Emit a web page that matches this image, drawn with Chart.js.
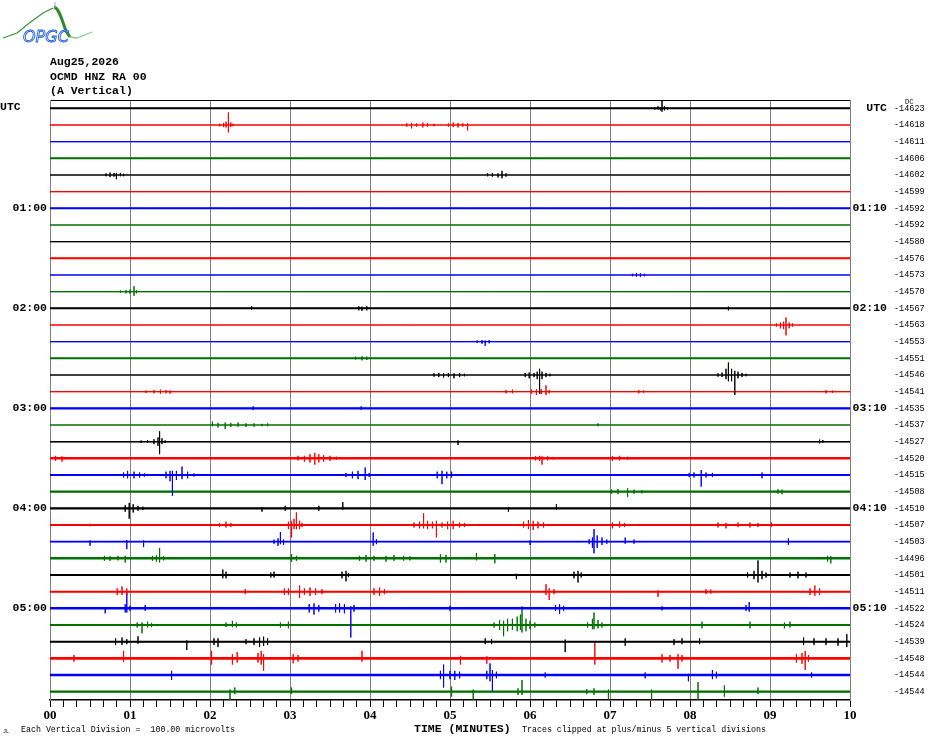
<!DOCTYPE html>
<html>
<head>
<meta charset="utf-8">
<script src="https://cdn.jsdelivr.net/npm/chart.js@4.4.1/dist/chart.umd.min.js"></script>
<style>
  html, body { margin: 0; padding: 0; background: #fff; }
  #wrap { position: relative; width: 930px; height: 744px; overflow: hidden; }
  #c { position: absolute; left: 0; top: 0; }
  .t { position: absolute; font-family: "Liberation Mono", monospace; color: #000; white-space: pre; }
  .bold { font-weight: bold; font-size: 11.5px; line-height: 14.5px; }
  .small { font-size: 8.3px; line-height: 10px; }
</style>
</head>
<body>
<div id="wrap">
  <canvas id="c" width="930" height="744"></canvas>

  <svg style="position:absolute;left:0;top:0" width="100" height="46">
    <path d="M3,38 L17,33 Q30,22 43,13 L53,8" fill="none" stroke="#3c963c" stroke-width="1.3"/>
    <path d="M54,7 C59,8 62,20 66,31 L70,37" fill="none" stroke="#2e8b2e" stroke-width="3"/>
    <path d="M70,37 L77,38 L92,32" fill="none" stroke="#8fc88f" stroke-width="1.3"/>
    <line x1="55" y1="2" x2="55" y2="8" stroke="#999" stroke-width="0.8"/>
    <text x="23" y="42" font-family="DejaVu Sans" font-style="italic" font-size="16" fill="#ffffff" stroke="#1f5fd6" stroke-width="0.9">OPGC</text>
  </svg>

  <div class="t bold" style="left:50px;top:55px">Aug25,2026
OCMD HNZ RA 00
(A Vertical)</div>
  <div class="t bold" style="left:0;top:100px">UTC</div>
  <div class="t" style="left:905px;top:98px;font-size:7px;line-height:8px">DC</div>
  <div class="t bold" style="left:414px;top:722px">TIME (MINUTES)</div>
  <div class="t small" style="left:21px;top:725px">Each Vertical Division =  100.00 microvolts</div>
  <div class="t small" style="left:522px;top:725px">Traces clipped at plus/minus 5 vertical divisions</div>
  <div class="t" style="left:3px;top:729px;font-size:5px;line-height:6px">JL</div>
</div>

<script>
// tick labels
const X_LABELS = ['00', '01', '02', '03', '04', '05', '06', '07', '08', '09', '10'];
const TICKS_PER_MIN = 6;
const LEFT_LABELS = ['UTC', '01:00', '02:00', '03:00', '04:00', '05:00'];
const RIGHT_LABELS = ['UTC', '01:10', '02:10', '03:10', '04:10', '05:10'];

// DC level printed at the end of every 10 minute line
const ROW_LEVELS = [-14623, -14618, -14611, -14606, -14602, -14599,
                    -14592, -14592, -14580, -14576, -14573, -14570,
                    -14567, -14563, -14553, -14551, -14546, -14541,
                    -14535, -14537, -14527, -14520, -14515, -14508,
                    -14510, -14507, -14503, -14496, -14501, -14511,
                    -14522, -14524, -14539, -14548, -14544, -14544];

// background noise of each line, in vertical divisions
const NOISE = [0.25, 0, 0.05, 0.25, 0, 0.05, 0.25, 0, 0.05, 0.25, 0, 0.05,
               0.25, 0, 0.05, 0.25, 0, 0.05, 0.3, 0.05, 0.1, 0.35, 0.2, 0.3,
               0.3, 0.2, 0.2, 0.35, 0.2, 0.25, 0.35, 0.25, 0.25, 0.4, 0.35, 0.3];

const ROW_DIV = 4; // vertical divisions between two lines

// wiggles: [minute, up, down] in divisions
const TRACE_EVENTS = [
  // 00:00
  [[7.56,0.3,0.3],[7.6,0.5,0.3],[7.63,0.3,0.5],[7.65,2,0.8],[7.68,0.5,0.5],[7.72,0.3,0.3]],
  [[2.12,0.3,0.3],[2.17,0.5,0.5],[2.2,0.8,0.6],[2.23,3,1.8],[2.26,0.6,0.5],[2.29,0.3,0.3],[4.46,0.4,0.4],[4.52,0.5,0.8],[4.58,0.4,0.4],[4.66,0.6,0.6],[4.72,0.5,0.4],[4.8,0.3,0.3],[4.98,0.4,0.4],[5.04,0.6,0.5],[5.1,0.5,0.6],[5.16,0.4,0.4],[5.22,0.4,1.3]],
  [],
  [],
  [[0.7,0.4,0.3],[0.75,0.6,0.5],[0.8,0.5,0.4],[0.83,0.5,1],[0.88,0.5,0.3],[0.92,0.3,0.3],[5.47,0.4,0.3],[5.53,0.5,0.4],[5.6,0.4,0.6],[5.65,1,0.8],[5.7,0.4,0.4]],
  [],
  // 01:00
  [],
  [],
  [],
  [],
  [[7.28,0.3,0.3],[7.33,0.5,0.4],[7.38,0.4,0.5],[7.43,0.3,0.3]],
  [[0.88,0.3,0.3],[0.95,0.4,0.4],[1.0,0.5,0.5],[1.05,1.3,1],[1.08,0.4,0.4]],
  // 02:00
  [[2.52,0.5,0.3],[3.86,0.5,0.5],[3.9,0.4,0.6],[3.96,0.5,0.5],[8.48,0.4,0.5]],
  [[9.08,0.4,0.4],[9.13,0.6,0.8],[9.17,0.8,1],[9.2,1.8,2.5],[9.24,0.6,0.8],[9.28,0.4,0.4]],
  [[5.34,0.3,0.3],[5.4,0.4,0.5],[5.44,0.3,1],[5.49,0.4,0.4]],
  [[3.82,0.4,0.3],[3.9,0.5,0.5],[3.96,0.4,0.4]],
  [[4.8,0.4,0.4],[4.86,0.5,0.5],[4.92,0.4,0.6],[4.98,0.5,0.5],[5.05,0.4,0.8],[5.12,0.5,0.5],[5.18,0.3,0.3],[5.94,0.5,0.5],[5.99,0.6,0.8],[6.05,0.5,0.5],[6.09,0.8,1],[6.12,1.5,4.5],[6.15,0.8,1],[6.2,0.5,0.5],[6.25,0.3,0.3],[8.35,0.4,0.4],[8.4,0.6,0.5],[8.45,1.5,1],[8.48,3,1.5],[8.52,1.5,1.5],[8.56,1,4.8],[8.6,0.8,0.8],[8.65,0.5,0.5],[8.7,0.3,0.3]],
  [[1.2,0.3,0.3],[1.3,0.4,0.4],[1.38,0.5,0.5],[1.45,0.4,0.4],[1.5,0.3,0.5],[5.7,0.4,0.4],[5.78,0.5,0.4],[6.02,0.5,0.5],[6.08,0.6,0.8],[6.14,0.6,0.6],[6.2,1.5,0.8],[6.24,0.4,0.4],[7.36,0.4,0.4],[7.42,0.3,0.3],[9.7,0.4,0.4],[9.78,0.3,0.3]],
  // 03:00
  [[2.54,0.5,0.4],[3.89,0.5,0.4]],
  [[2.03,0.8,0.3],[2.1,0.5,0.6],[2.19,0.6,1],[2.26,0.5,0.5],[2.35,0.6,0.4],[2.45,0.4,0.5],[2.55,0.4,0.4],[2.65,0.3,0.3],[2.72,0.4,0.3],[6.85,0.4,0.3]],
  [[1.14,0.3,0.3],[1.22,0.4,0.3],[1.3,0.6,0.6],[1.35,1,1],[1.37,2.5,3],[1.4,0.8,0.6],[1.44,0.3,0.3],[5.1,0.3,0.8],[9.62,0.5,0.4],[9.66,0.4,0.3]],
  [[0.07,0.6,0.6],[0.15,0.5,0.8],[3.1,0.6,0.5],[3.18,0.6,0.8],[3.25,1,1],[3.31,1.3,1.5],[3.36,1,1],[3.42,0.8,0.8],[3.5,0.6,0.6],[3.58,0.4,0.4],[6.07,0.5,0.5],[6.12,0.6,0.6],[6.15,0.5,1.5],[6.22,0.5,0.5],[6.3,0.3,0.3],[7.03,0.5,0.6],[7.12,0.6,0.5],[7.22,0.4,0.4]],
  [[0.92,0.6,0.6],[0.97,1,0.8],[1.05,0.8,0.8],[1.12,0.6,0.6],[1.18,0.4,0.4],[1.45,0.8,0.8],[1.5,1,1.5],[1.53,1,5],[1.58,1,1.2],[1.65,2,1],[1.72,0.8,0.8],[1.8,0.4,0.4],[3.7,0.5,0.5],[3.78,0.8,0.8],[3.85,1,1],[3.94,1.8,1.2],[3.99,0.5,0.5],[4.84,0.8,0.8],[4.9,1,2.2],[4.96,0.8,0.8],[5.02,0.8,0.6],[7.99,0.5,0.5],[8.05,0.6,0.6],[8.14,1.2,2.8],[8.2,0.6,0.6],[8.28,0.5,0.5],[8.9,0.6,0.8]],
  [[7.02,0.5,0.5],[7.1,0.6,0.6],[7.22,0.8,1.3],[7.3,0.5,0.5],[7.4,0.4,0.4],[9.1,0.6,0.5],[9.15,0.5,0.6]],
  // 04:00
  [[0.94,0.8,0.8],[0.99,1.3,2.5],[1.04,1,1],[1.1,0.6,0.6],[1.16,0.4,0.4],[2.65,0.3,0.8],[2.94,0.6,0.6],[3.36,0.6,0.6],[3.66,1.5,0.3],[5.73,0.3,0.8],[6.33,1,0.3]],
  [[0.5,0.3,0.3],[2.12,0.5,0.5],[2.2,0.8,0.6],[2.26,0.5,0.5],[2.98,0.8,1],[3.02,1,3],[3.05,1.5,1],[3.08,3,1],[3.12,1,1],[3.15,0.5,0.5],[4.55,0.6,0.6],[4.62,0.8,0.8],[4.67,2.8,0.8],[4.72,1,1],[4.78,0.8,0.8],[4.83,1,3],[4.9,0.6,0.6],[4.97,0.8,1],[5.04,1,1],[5.12,0.6,0.6],[5.18,0.5,0.5],[5.92,0.8,0.6],[5.98,1.2,1],[6.04,1,1.2],[6.1,0.8,0.8],[6.17,0.6,0.6],[7.03,0.6,0.8],[7.12,0.8,0.6],[7.18,0.5,0.5],[8.35,0.6,0.6],[8.45,0.5,0.8],[8.6,0.6,0.5],[8.75,0.6,0.6],[8.85,0.5,0.5],[9.02,0.6,0.5]],
  [[0.5,0.3,1],[0.96,0.4,1.8],[1.17,0.3,1.3],[2.8,0.5,0.5],[2.85,0.8,1],[2.88,2.3,0.6],[2.92,0.5,0.8],[4.04,2.2,1],[4.08,0.6,0.6],[6.0,0.3,0.8],[6.74,0.6,0.6],[6.78,1,1.5],[6.8,3,2.8],[6.84,1.5,1.5],[6.9,1,0.8],[6.96,0.5,0.5],[7.19,1,0.5],[7.3,0.5,0.5],[9.23,0.8,0.8]],
  [[0.68,0.6,0.6],[0.75,0.5,0.6],[0.85,0.6,0.5],[0.94,0.6,1],[1.28,0.6,0.6],[1.33,0.8,0.8],[1.37,2.5,1],[1.42,0.5,0.5],[3.02,1,0.8],[3.08,0.6,0.6],[3.87,0.6,0.6],[3.95,0.8,0.8],[4.05,0.6,0.6],[4.2,0.6,0.8],[4.3,0.8,0.6],[4.42,0.6,0.6],[4.5,0.5,0.5],[4.88,1,1],[4.95,0.8,1],[5.33,1.3,0.5],[5.56,1,1.2],[9.72,0.6,0.8],[9.76,0.5,1.2]],
  [[2.16,1.3,0.8],[2.2,0.8,0.8],[2.76,0.6,0.6],[2.8,0.8,0.6],[3.65,0.8,0.8],[3.7,1,1.5],[3.73,0.5,0.5],[5.83,0.3,1],[6.55,0.8,0.8],[6.6,1,1.8],[6.64,0.6,0.6],[8.72,0.6,0.6],[8.8,1,1],[8.85,3.5,1.8],[8.9,1,1],[8.95,0.6,0.6],[9.25,0.6,0.6],[9.35,0.8,0.8],[9.45,0.6,0.6]],
  [[0.84,0.8,0.8],[0.9,1.3,0.8],[0.96,0.8,0.8],[2.44,0.6,0.6],[2.93,0.8,0.8],[2.98,0.8,0.8],[3.12,1.5,1.5],[3.18,0.8,0.8],[3.25,1,1],[3.32,0.8,0.8],[3.4,0.6,0.6],[4.05,0.8,0.8],[4.12,1,1],[4.18,0.6,0.6],[6.2,1.8,0.8],[6.24,0.8,2],[6.3,0.6,0.6],[7.6,0.3,1.3],[8.2,0.6,0.6],[8.26,0.5,0.5],[9.5,0.8,0.8],[9.56,1.5,1],[9.62,0.8,0.8]],
  // 05:00
  [[0.69,0.3,1.2],[0.94,1,1],[0.96,3.8,1],[1.0,0.6,0.6],[1.19,0.8,0.6],[3.24,1,1],[3.3,1.2,1.5],[3.36,0.8,0.8],[3.57,1,1],[3.62,1.2,1],[3.68,1,1.2],[3.76,0.5,7],[3.8,0.8,0.8],[5.0,0.6,0.6],[6.32,0.8,0.6],[6.37,1,1.3],[6.42,0.6,0.6],[7.65,0.5,0.5],[8.7,0.8,0.6],[8.74,1.5,0.8]],
  [[1.09,0.6,0.6],[1.15,0.6,2],[1.22,0.8,0.6],[1.27,0.5,0.5],[2.2,0.6,0.5],[2.28,1,0.5],[2.33,0.6,0.6],[2.88,0.6,0.6],[2.98,0.8,0.8],[5.55,0.6,0.6],[5.62,1.2,1.2],[5.67,1,2.7],[5.72,1.5,1.5],[5.78,1.5,1.2],[5.84,2,1.5],[5.88,2.5,1.2],[5.9,4.5,1.8],[5.95,1.5,1.5],[6.0,1,1],[6.06,0.6,0.6],[6.72,0.6,0.6],[6.78,1.5,1],[6.8,3,1],[6.85,1.2,0.8],[6.9,0.6,0.6],[8.15,0.8,0.8],[8.75,0.8,0.8],[9.18,0.6,0.8],[9.25,0.8,0.6]],
  [[0.82,0.8,0.8],[0.9,1,0.8],[0.96,0.6,0.6],[1.1,1.3,0.5],[1.71,0.3,2],[2.05,0.8,0.8],[2.1,0.8,1.3],[2.45,0.6,0.6],[2.55,0.8,0.8],[2.62,1,1.3],[2.67,1.2,1],[2.72,0.8,0.8],[5.44,0.8,0.6],[5.52,0.6,0.6],[6.44,0.5,2.5],[7.19,0.8,1],[7.8,0.6,0.8],[7.9,0.8,0.6],[8.12,0.8,0.6],[9.42,1,0.8],[9.55,0.8,0.8],[9.7,0.8,0.8],[9.85,0.8,1],[9.96,1.8,1.3]],
  [[0.3,0.8,0.8],[0.92,1.8,0.8],[2.02,1.8,1.5],[2.28,1,1.5],[2.34,1.5,1],[2.6,1.3,1],[2.64,1.8,1.5],[2.67,1,3],[3.04,1,1.2],[3.1,0.8,0.8],[3.9,1.8,0.8],[5.13,0.6,1.5],[5.46,0.5,1.3],[6.81,4,1.5],[7.65,1,1],[7.75,0.8,0.8],[7.85,1,2.5],[7.9,0.8,0.8],[9.33,1,1],[9.4,1.3,1.3],[9.44,1.8,2.8],[9.48,0.8,0.8]],
  [[1.52,1,1.2],[4.88,1,1],[4.92,2.5,3],[5.0,1,1],[5.06,1,1.2],[5.12,0.8,0.8],[5.46,1,1],[5.5,2.8,1.5],[5.53,1.2,3.8],[5.58,0.8,0.8],[6.19,0.6,0.6],[7.44,0.6,0.8],[7.98,0.3,1.5],[8.28,1.2,1],[8.33,0.8,0.8],[9.52,0.6,0.6]],
  [[2.25,0.5,2],[2.31,1,0.6],[3.02,1,0.5],[5.02,1.2,1.2],[5.29,0.5,2.5],[5.85,0.8,0.8],[5.9,2.8,0.8],[6.71,0.6,0.6],[6.8,0.8,0.8],[6.98,0.5,2],[7.52,0.5,2],[8.1,2.3,2.5],[8.43,1.5,1.2],[8.85,1,0.6]]
];

const TRACE_COLORS = ['#000000', '#ff0000', '#0000ff', '#007000'];
const MONO = '"Liberation Mono", monospace';

function isWhole(v) {
  return v !== undefined && Math.abs(v - Math.round(v)) < 1e-6;
}

// one polyline per 10 minute line, spikes drawn straight up and down
function tracePoints(row) {
  const pts = [{x: 0, y: row}];
  TRACE_EVENTS[row].slice().sort((a, b) => a[0] - b[0]).forEach(([t, up, down]) => {
    pts.push({x: t, y: row});
    pts.push({x: t, y: row - up / ROW_DIV});
    pts.push({x: t, y: row + down / ROW_DIV});
    pts.push({x: t, y: row});
  });
  pts.push({x: 10, y: row});
  return pts;
}

function rowTicks(scale) {
  scale.ticks = ROW_LEVELS.map((_, i) => ({value: i}));
}

const datasets = [];
TRACE_EVENTS.forEach((ev, row) => {
  // noise band under the line
  datasets.push({
    data: [{x: 0, y: row}, {x: 10, y: row}],
    borderColor: TRACE_COLORS[row % 4],
    borderWidth: function(ctx) {
      const y = ctx.chart.scales.y;
      const pxPerDiv = y ? Math.abs(y.getPixelForValue(1) - y.getPixelForValue(0)) / ROW_DIV : 4;
      return 1 + NOISE[row] * pxPerDiv;
    },
    pointRadius: 0,
    borderCapStyle: 'butt'
  });
  // the wiggles themselves
  datasets.push({
    data: tracePoints(row),
    borderColor: TRACE_COLORS[row % 4],
    borderWidth: 1,
    pointRadius: 0,
    tension: 0,
    borderJoinStyle: 'miter'
  });
});

new Chart(document.getElementById('c'), {
  type: 'line',
  data: { datasets: datasets },
  options: {
    responsive: false,
    animation: false,
    events: [],
    layout: { padding: { top: 100 } },
    plugins: { legend: { display: false }, tooltip: { enabled: false } },
    scales: {
      x: {
        type: 'linear', position: 'bottom', min: 0, max: 10,
        afterBuildTicks: function(scale) {
          scale.ticks = [];
          for (let k = 0; k <= 10 * TICKS_PER_MIN; k++) scale.ticks.push({value: k / TICKS_PER_MIN});
        },
        afterFit: function(scale) { scale.height = 44; },
        grid: {
          color: c => isWhole(c.tick && c.tick.value) ? '#808080' : 'rgba(0,0,0,0)',
          tickColor: '#000', tickLength: 7, lineWidth: 1
        },
        border: { color: '#000', width: 1.5 },
        ticks: {
          autoSkip: false, maxRotation: 0, padding: 1, color: '#000',
          font: { family: '"Liberation Serif", serif', weight: 'bold', size: 13 },
          callback: v => isWhole(v) ? X_LABELS[Math.round(v)] : ''
        }
      },
      xt: {
        type: 'linear', position: 'top', min: 0, max: 10,
        afterFit: function(scale) { scale.height = 0; },
        grid: { display: false, drawTicks: false },
        ticks: { display: false },
        border: { color: '#000', width: 1 }
      },
      y: {
        type: 'linear', position: 'left', min: -0.5, max: 35.5, reverse: true,
        afterBuildTicks: rowTicks,
        afterFit: function(scale) { scale.width = 50; },
        grid: { display: false, drawTicks: false },
        border: { color: '#808080', width: 1 },
        ticks: {
          autoSkip: false, padding: 3, color: '#000',
          font: { family: MONO, weight: 'bold', size: 11.5 },
          callback: v => (v % 6 === 0 && v > 0) ? LEFT_LABELS[v / 6] : ''
        }
      },
      yr: {
        type: 'linear', position: 'right', min: -0.5, max: 35.5, reverse: true,
        afterBuildTicks: rowTicks,
        afterFit: function(scale) { scale.width = 37; },
        grid: { display: false, drawTicks: false },
        border: { color: '#808080', width: 1 },
        ticks: {
          autoSkip: false, padding: 2, color: '#000', crossAlign: 'far',
          font: { family: MONO, weight: 'bold', size: 11.5 },
          callback: v => (v % 6 === 0) ? RIGHT_LABELS[v / 6] : ''
        }
      },
      yv: {
        type: 'linear', position: 'right', min: -0.5, max: 35.5, reverse: true,
        afterBuildTicks: rowTicks,
        afterFit: function(scale) { scale.width = 43; },
        grid: { display: false, drawTicks: false },
        border: { display: false },
        ticks: {
          autoSkip: false, padding: 7, color: '#000',
          font: { family: MONO, size: 8.5 },
          callback: v => String(ROW_LEVELS[v])
        }
      }
    }
  }
});
</script>
</body>
</html>
